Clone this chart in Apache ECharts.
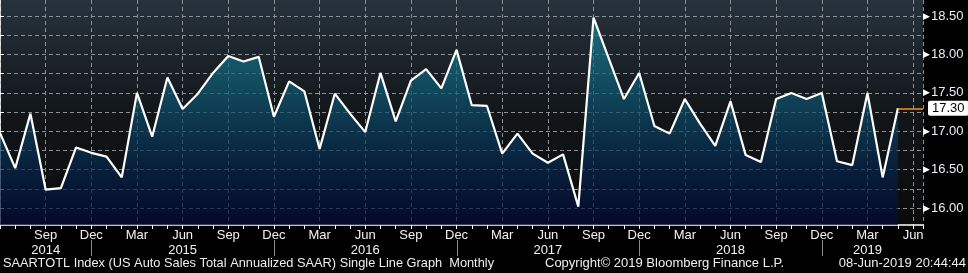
<!DOCTYPE html>
<html>
<head>
<meta charset="utf-8">
<script src="https://cdn.jsdelivr.net/npm/echarts@6/dist/echarts.min.js"></script>
<style>
html,body{margin:0;padding:0;background:#000;}
#chart{width:968px;height:273px;}
</style>
</head>
<body>
<div id="chart"></div>
<script>
// ---- data ----
const monthNames = ['Jan','Feb','Mar','Apr','May','Jun','Jul','Aug','Sep','Oct','Nov','Dec'];
const startMonth = 5; // Jun 2014 is index 0
const values = [
  16.98, 16.52, 17.23, 16.24, 16.26, 16.79, 16.72,
  16.67, 16.40, 17.50, 16.93, 17.70, 17.29, 17.49, 17.76, 17.98, 17.91, 17.97, 17.19,
  17.65, 17.52, 16.77, 17.49, 17.23, 16.99, 17.76, 17.13, 17.66, 17.81, 17.56, 18.06,
  17.34, 17.33, 16.71, 16.97, 16.71, 16.59, 16.70, 16.02, 18.48, 17.95, 17.42, 17.76,
  17.07, 16.97, 17.42, 17.10, 16.81, 17.39, 16.69, 16.60, 17.42, 17.50, 17.42, 17.50,
  16.61, 16.56, 17.50, 16.40, 17.30
];
const yearLabelIdx = [3, 12, 24, 36, 48, 57];
const yearLabels = ['2014', '2015', '2016', '2017', '2018', '2019'];
const yearSeparatorIdx = [6, 18, 30, 42, 54];
const yLabelTicks = [16.00, 16.50, 17.00, 17.50, 18.00, 18.50];
const yAllTicks = [16.00, 16.25, 16.50, 16.75, 17.00, 17.25, 17.50, 17.75, 18.00, 18.25, 18.50];
const xMin = 0, xMax = 60.65;
const yMin = 15.78, yMax = 18.71;

const chart = echarts.init(document.getElementById('chart'), null, {renderer: 'canvas'});
const FONT = 'Liberation Sans';
const lastIdx = values.length - 1;
const lastVal = values[lastIdx];

const footer = [
  {id: 'f1', type: 'text', left: 3, top: 257, style: {text: 'SAARTOTL Index (US Auto Sales Total Annualized SAAR) Single Line Graph  Monthly', fill: '#eeeeee', font: '12.8px ' + FONT}},
  {id: 'f2', type: 'text', left: 545, top: 257, style: {text: 'Copyright\u00A9 2019 Bloomberg Finance L.P.', fill: '#eeeeee', font: '13px ' + FONT}},
  {id: 'f3', type: 'text', right: 2, top: 257, style: {text: '08-Jun-2019 20:44:44', fill: '#eeeeee', font: '13px ' + FONT}}
];

const option = {
  backgroundColor: '#000',
  animation: false,
  textStyle: {fontFamily: FONT},
  grid: [
    {left: 0, right: 45, top: 0, bottom: 48, show: true, borderWidth: 0,
     backgroundColor: new echarts.graphic.LinearGradient(0, 0, 0, 1, [
       {offset: 0, color: '#26323c'},
       {offset: 0.5, color: '#121619'},
       {offset: 1, color: '#0a0a0a'}
     ])}
  ],
  xAxis: [
    {
      type: 'value', gridIndex: 0, min: xMin, max: xMax, interval: 3,
      axisLine: {show: true, onZero: false, lineStyle: {color: '#ffffff', width: 1.5}},
      axisTick: {show: true, length: 4, inside: false, lineStyle: {color: '#ffffff', width: 1}},
      minorTick: {show: true, splitNumber: 3, length: 4, lineStyle: {color: '#ffffff', width: 1}},
      splitLine: {show: true, lineStyle: {color: '#8a9096', width: 1, type: [4, 3]}},
      axisLabel: {
        show: true, color: '#f2f2f2', fontFamily: FONT, fontSize: 13, lineHeight: 15, margin: 3,
        showMinLabel: false,
        formatter: function (val) {
          const i = Math.round(val);
          if (i <= 0) return '';
          const m = monthNames[(startMonth + i) % 12];
          const k = yearLabelIdx.indexOf(i);
          return k >= 0 ? m + '\n' + yearLabels[k] : m;
        }
      }
    }
  ],
  yAxis: [
    {
      type: 'value', gridIndex: 0, position: 'right', min: yMin, max: yMax,
      axisLine: {show: true, lineStyle: {color: '#ffffff', width: 1.5}},
      axisTick: {show: true, length: 4, customValues: yAllTicks, lineStyle: {color: '#ffffff'}},
      splitLine: {show: true, lineStyle: {color: '#8a9096', width: 1, type: [4, 3]}},
      axisLabel: {
        show: true, margin: 0, customValues: yLabelTicks,
        formatter: function (v) { return '{t|\u25B6}{v|' + v.toFixed(2) + '}'; },
        rich: {
          t: {color: '#ffffff', fontSize: 9, padding: [0, 1, 0, 0]},
          v: {color: '#e8eef4', fontSize: 13, fontFamily: FONT}
        }
      }
    }
  ],
  series: [
    {
      type: 'line', xAxisIndex: 0, yAxisIndex: 0,
      data: values.map((v, i) => [i, v]),
      symbol: 'none',
      lineStyle: {color: '#ffffff', width: 2.2},
      areaStyle: {
        origin: 'start',
        color: new echarts.graphic.LinearGradient(0, 0, 0, 1, [
          {offset: 0, color: '#1b8698'},
          {offset: 0.35, color: '#0e5a74'},
          {offset: 0.7, color: '#06284e'},
          {offset: 1, color: '#020836'}
        ])
      },
      markLine: {
        silent: true, symbol: 'none', animation: false,
        lineStyle: {color: '#f7901e', width: 1.5, type: 'solid'},
        label: {
          show: true, position: 'end', distance: 5,
          formatter: () => lastVal.toFixed(2),
          color: '#000', backgroundColor: '#ffffff', fontSize: 13, fontFamily: FONT,
          padding: [1, 4, 1, 4], borderRadius: 2
        },
        data: [[{coord: [lastIdx, lastVal]}, {coord: [xMax, lastVal]}]]
      }
    }
  ],
  graphic: footer
};
chart.setOption(option);

// year separators below the month labels, x positions taken from the chart's own x scale
const separators = yearSeparatorIdx.map((idx, n) => {
  const px = chart.convertToPixel({xAxisIndex: 0}, idx);
  const x = Math.round(px) + 0.5;
  return {id: 'sep' + n, type: 'line', silent: true,
          shape: {x1: x, y1: 240, x2: x, y2: 256},
          style: {stroke: '#8a8a8a', lineWidth: 1}};
});
chart.setOption({graphic: footer.concat(separators)});
</script>
</body>
</html>
